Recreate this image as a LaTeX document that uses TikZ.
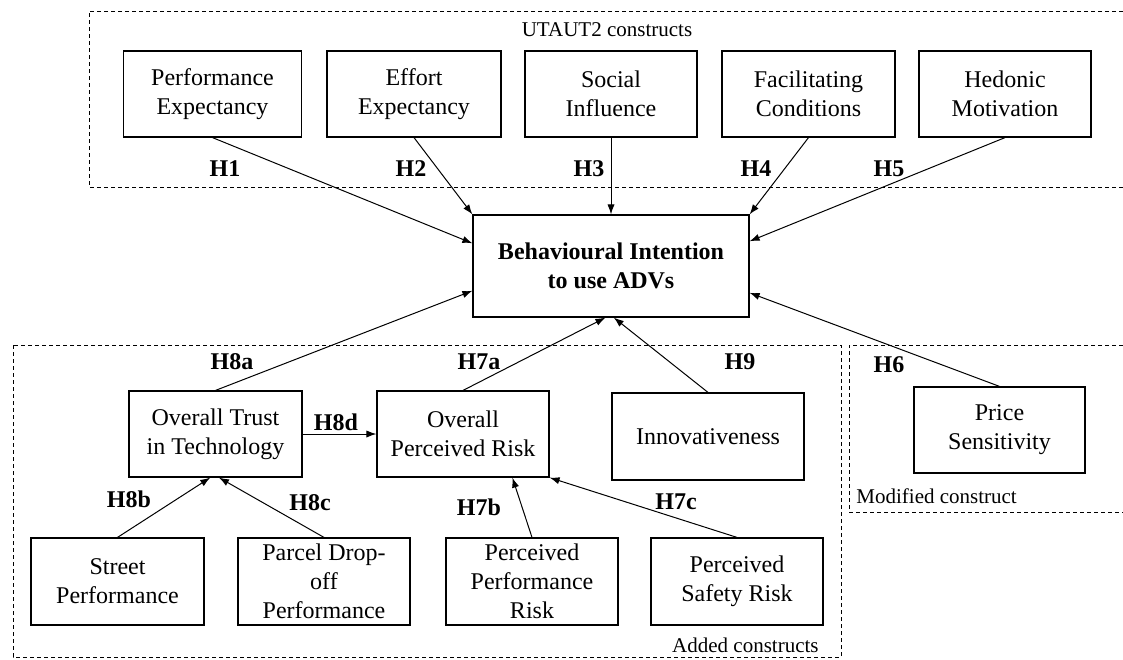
\documentclass[tikz,border=0pt]{standalone}
\usepackage{fontspec}
\setmainfont{Liberation Serif}
\usetikzlibrary{arrows.meta,calc}
\begin{document}
\begin{tikzpicture}[x=0.5pt,y=-0.5pt,
  construct/.style={draw,line width=0.6pt,align=center,inner sep=2pt,
    font=\fontsize{12}{14.5}\selectfont},
  boxtop/.style={construct,minimum width=87pt,minimum height=43pt},
  boxlow/.style={construct,minimum width=86pt,minimum height=43.5pt},
  hyp/.style={font=\fontsize{12}{14}\selectfont\bfseries,inner sep=1pt},
  grp/.style={draw,line width=0.5pt,dash pattern=on 2pt off 1.5pt},
  grplabel/.style={font=\fontsize{10.5}{12}\selectfont,inner sep=1pt},
  link/.style={line width=0.5pt,-{Latex[length=5pt,width=3.6pt]}}]
\useasboundingbox (0,0) rectangle (1123,659);

% construct groups
\draw[grp] (1123,11) -- (89,11) -- (89,187) -- (1123,187);
\draw[grp] (13,345) rectangle (841,657);
\draw[grp] (1123,345) -- (849,345) -- (849,512) -- (1123,512);
\node[grplabel] (lutaut) at (607,30) {UTAUT2 constructs};
\node[grplabel,anchor=east] (ladded) at (821,645) {Added constructs};
\node[grplabel,anchor=west] (lmod) at (854,496) {Modified construct};

% UTAUT2 constructs
\node[boxtop,minimum width=89pt] (pe) at (212.5,94) {Performance\\Expectancy};
\node[boxtop] (ee) at (414,94) {Effort\\Expectancy};
\node[boxtop,minimum width=86pt] (si) at (611,94) {Social\\Influence};
\node[boxtop,minimum width=86.5pt] (fc) at (808.5,94) {Facilitating\\Conditions};
\node[boxtop,minimum width=86pt] (hm) at (1005,94) {Hedonic\\Motivation};

% outcome
\node[construct,minimum width=138pt,minimum height=51pt,
  font=\fontsize{12}{14.5}\selectfont\bfseries] (bi) at (611,266)
  {Behavioural Intention\\to use ADVs};

% added and modified constructs
\node[boxlow,minimum width=86.5pt,minimum height=43pt] (trust) at (215.5,434) {Overall Trust\\in Technology};
\node[boxlow,minimum height=43pt] (opr) at (463,434) {Overall\\Perceived Risk};
\node[boxlow,minimum width=96pt] (inno) at (708,436.5) {Innovativeness};
\node[boxlow,minimum width=85.5pt,minimum height=43pt] (price) at (999.5,430) {Price\\Sensitivity};
\node[boxlow,minimum width=86.5pt] (street) at (117.5,581.5) {Street\\Performance};
\node[boxlow] (parcel) at (324,581.5) {Parcel Drop-\\off\\Performance};
\node[boxlow] (ppr) at (532,581.5) {Perceived\\Performance\\Risk};
\node[boxlow] (psr) at (737,581.5) {Perceived\\Safety Risk};

% hypotheses
\draw[link] (pe.south) -- ($(bi.north west)!0.28!(bi.south west)$);
\draw[link] (ee.south) -- (bi.north west);
\draw[link] (si.south) -- (bi.north);
\draw[link] (fc.south) -- (bi.north east);
\draw[link] (hm.south) -- ($(bi.north east)!0.26!(bi.south east)$);
\draw[link] (trust.north) -- ($(bi.north west)!0.74!(bi.south west)$);
\draw[link] (price.north) -- ($(bi.north east)!0.76!(bi.south east)$);
\draw[link] (opr.north) -- ($(bi.south west)!0.48!(bi.south east)$);
\draw[link] (inno.north) -- ($(bi.south west)!0.51!(bi.south east)$);
\draw[link] (trust.east) -- (opr.west);
\draw[link] (street.north) -- ($(trust.south west)!0.47!(trust.south east)$);
\draw[link] (parcel.north) -- ($(trust.south west)!0.52!(trust.south east)$);
\draw[link] (ppr.north) -- ($(opr.south west)!0.785!(opr.south east)$);
\draw[link] (psr.north) -- (opr.south east);

\node[hyp] (h1) at (225,169) {H1};
\node[hyp] (h2) at (411,169) {H2};
\node[hyp] (h3) at (589,169) {H3};
\node[hyp] (h4) at (756,169) {H4};
\node[hyp] (h5) at (889,169) {H5};
\node[hyp] (h8a) at (232,362) {H8a};
\node[hyp] (h7a) at (479,362) {H7a};
\node[hyp] (h9) at (740,362) {H9};
\node[hyp] (h6) at (889,365) {H6};
\node[hyp] (h8d) at (336,422) {H8d};
\node[hyp] (h8b) at (129,499) {H8b};
\node[hyp] (h8c) at (310,503) {H8c};
\node[hyp] (h7b) at (479,507) {H7b};
\node[hyp] (h7c) at (676,502) {H7c};
\end{tikzpicture}
\end{document}
